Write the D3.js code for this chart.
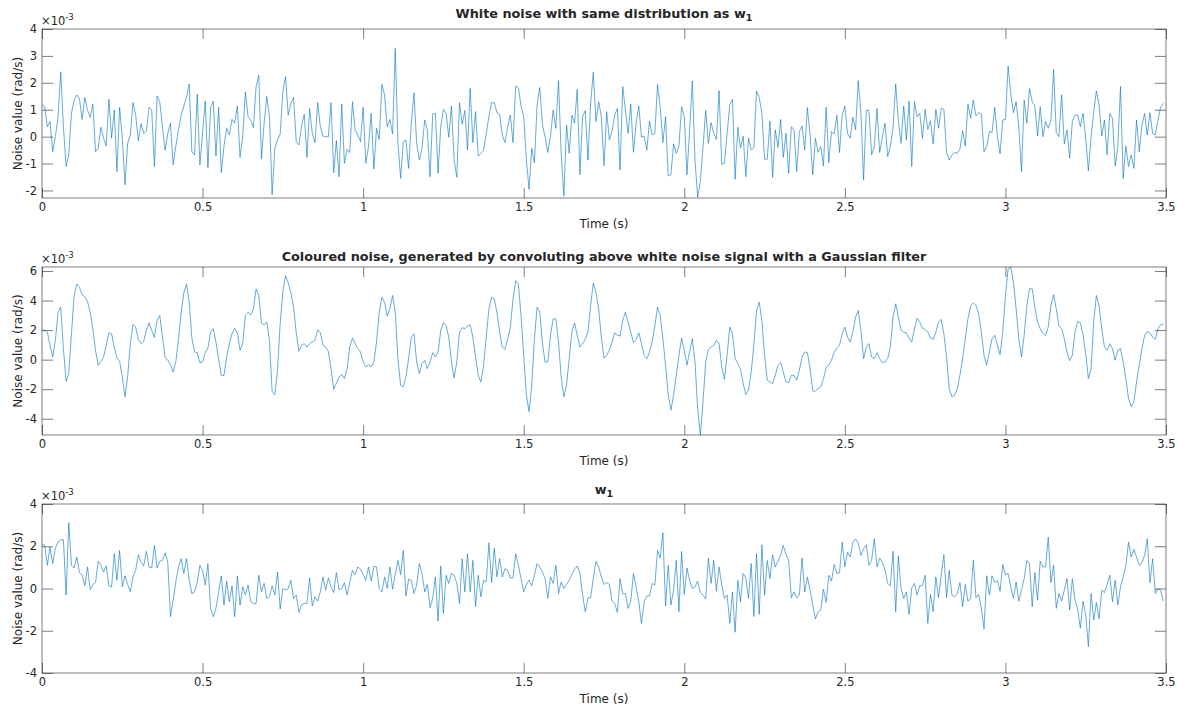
<!DOCTYPE html>
<html>
<head>
<meta charset="utf-8">
<script src="https://cdn.jsdelivr.net/npm/d3@7"></script>
<style>
  body { margin: 0; background: #fff; }
  svg { display: block; }
  text { font-family: "DejaVu Sans", sans-serif; fill: #262626; }
</style>
</head>
<body>
<svg id="fig" width="1182" height="709"></svg>
<script>
// Samples are taken at 120 Hz; values are in units of 1e-3 rad/s.
const sampleRate = 120;
const xTicks = [0, 0.5, 1, 1.5, 2, 2.5, 3, 3.5];

// White noise with the same distribution as w1
const whiteNoise = [
  1.2, 1.1, 0.37, 0.56, -0.56, 0.0, 0.74, 2.41, 0.37, -1.11,
  -0.68, 0.87, 1.36, 1.55, 1.42, 0.64, 1.46, 0.99, 0.72, 1.21,
  -0.56, -0.43, 0.35, -0.06, -0.35, 1.39, -0.06, 0.99, -1.30, 1.09,
  -0.06, -1.79, -0.25, 0.06, 1.27, 0.80, -0.15, 0.48, 0.12, 0.21,
  1.09, 0.99, -1.11, 1.51, 1.29, 0.37, -0.50, 0.12, 0.50, -1.05,
  -0.35, 0.25, 0.80, 1.14, 1.46, 1.96, -0.56, -0.68, 1.58, -1.05,
  0.15, 1.32, -1.15, 1.09, 1.32, -0.72, 1.09, -1.34, -0.35, 0.31,
  0.06, 0.64, 0.50, 1.14, -0.77, 0.0, 1.66, 0.74, 0.62, 0.33,
  1.86, 2.29, -0.83, 0.50, 1.49, 0.74, -2.17, -0.43, -0.12, 0.09,
  1.67, 2.23, 0.80, 1.24, 1.46, -0.19, -0.31, 0.40, 0.83, -0.77,
  1.05, 0.12, -0.22, 1.27, 0.37, 0.02, 0.0, 0.0, 1.26, -1.34,
  -0.15, -1.49, 1.21, -0.99, -0.47, -0.59, 1.30, 0.25, 0.06, -0.19,
  1.09, -0.99, -0.37, 0.87, -1.20, 0.31, -0.10, 1.94, 1.55, 0.37,
  0.64, 0.10, 3.28, -0.22, -1.55, -0.19, -0.12, -1.18, 0.50, 1.63,
  -0.25, -0.87, -0.43, 0.62, 0.25, -1.49, 0.84, 0.87, -1.36, 0.37,
  1.01, 0.87, -0.02, 1.14, -0.87, -1.51, 1.26, 0.46, 0.97, -0.50,
  1.79, -0.22, 0.93, -0.72, -0.62, -0.52, 0.12, 0.74, 1.26, 1.26,
  0.89, 0.83, 0.06, -0.22, 0.37, 0.80, -0.22, 1.88, 1.82, 1.14,
  0.74, -0.87, -1.96, -0.43, -0.97, 1.18, 1.83, 0.43, 0.0, -0.59,
  0.0, 0.99, 0.31, 2.08, -0.62, -2.20, 0.43, -0.62, 0.80, 0.50,
  1.76, -1.42, 0.74, 0.97, -0.87, 1.24, 2.39, 0.56, 1.30, 0.74,
  -1.08, 0.93, -0.12, 0.19, 0.80, 1.05, -1.24, 1.86, 0.99, 0.12,
  1.21, -0.58, 0.50, 1.14, -0.02, 0.02, -0.50, 0.58, 0.06, 0.12,
  1.94, 1.11, -0.22, 0.74, -1.46, -1.42, -0.27, -0.62, -0.35, 1.11,
  0.74, -1.42, 0.25, 2.07, -0.87, -2.25, -1.67, -0.37, 0.97, -0.25,
  0.52, 0.12, -0.10, 1.71, -1.03, -0.99, 0.12, 1.18, 1.39, -1.58,
  0.35, -0.43, 0.02, -1.49, -0.06, -0.50, -0.41, 1.70, 1.45, 0.87,
  -0.84, -0.84, 0.58, -1.51, 0.25, -0.40, 0.64, -0.77, 0.12, -1.36,
  0.37, 0.25, -1.30, 0.19, 0.40, -0.50, 1.08, 0.06, -1.42, -0.06,
  -0.58, -0.37, -1.09, 1.09, -0.97, 0.19, 0.09, 0.80, -0.59, 0.80,
  1.14, 0.12, -0.06, 0.72, 0.25, 2.08, 0.87, -1.61, 0.99, 0.97,
  -0.68, -0.37, 1.05, -0.59, -0.02, 0.50, -0.74, -0.37, 0.31, 1.96,
  0.56, -0.25, 1.14, -0.12, 1.32, -1.11, 1.30, 0.74, 0.87, -0.06,
  1.01, 0.27, 0.59, -0.27, 1.01, 0.31, 1.05, 1.01, -0.59, -0.87,
  -0.68, -0.59, -0.62, -0.47, 0.22, -0.35, 1.21, 0.68, 1.36, 0.77,
  0.89, 0.84, -0.56, -0.37, 0.19, 0.15, 1.09, 0.0, -0.64, 0.62,
  0.64, 2.62, 1.58, 0.89, 1.30, 0.37, -1.30, 1.36, 0.50, 1.79,
  1.30, 1.14, 0.02, 1.11, 0.0, 0.56, 0.31, 0.59, 2.50, 0.15,
  0.0, 1.55, -0.27, 0.25, -0.80, 0.59, 0.80, 0.80, 0.37, 0.87,
  -0.06, -1.27, 0.0, 0.93, 1.70, 1.18, 0.02, 0.62, -0.68, 0.87,
  0.68, -1.09, -0.37, 1.86, -1.55, -0.35, -1.11, -0.68, -1.18, 0.62,
  -0.56, 0.40, 0.87, 0.06, 0.89, 0.12, 0.06, 0.62, 1.09, 1.24
];

// The white noise above after convolution with a Gaussian filter
const colouredNoise = [
  1.98, 2.0, 1.87, 0.97, 0.18, 1.30, 3.21, 3.55, 0.74, -1.46,
  -0.94, 1.75, 4.34, 5.12, 4.90, 4.38, 4.27, 3.93, 3.21, 2.09,
  0.63, -0.38, -0.11, 0.18, 0.97, 1.82, 1.75, 0.85, 0.11, -0.11,
  -1.17, -2.52, -1.17, 1.08, 2.38, 2.20, 1.37, 1.08, 1.24, 1.98,
  2.49, 1.98, 1.51, 2.65, 2.99, 1.53, 0.18, -0.04, -0.34, -0.83,
  -0.16, 1.37, 3.21, 4.52, 5.12, 3.93, 1.46, 0.52, 0.47, -0.20,
  -0.16, 0.47, 0.79, 1.87, 2.09, 1.19, 0.07, -1.10, -1.06, 0.18,
  1.08, 1.75, 2.13, 1.80, 0.63, 1.08, 2.99, 3.21, 3.03, 3.44,
  4.79, 4.34, 2.47, 2.36, 2.54, 1.30, -2.18, -2.36, -0.72, 2.43,
  4.61, 5.69, 5.19, 4.52, 3.55, 1.82, 0.56, 0.97, 1.08, 0.85,
  1.08, 1.19, 1.30, 2.02, 1.82, 0.97, 0.85, 0.56, -0.61, -2.0,
  -1.6, -1.17, -1.0, -1.28, -0.61, 0.85, 1.46, 1.08, 0.74, 0.52,
  -0.16, -0.49, -0.34, -0.49, -0.16, 1.19, 3.21, 4.22, 3.89, 2.94,
  3.44, 4.34, 3.21, 0.07, -1.73, -1.84, -1.17, 0.07, 1.53, 1.75,
  -0.16, -0.94, -0.27, -0.04, -0.61, -0.16, 0.47, 0.18, 0.52, 1.98,
  2.49, 2.31, 1.53, -0.16, -1.24, -0.16, 1.87, 2.16, 2.09, 2.27,
  2.36, 1.53, 0.18, -1.06, -1.51, -0.38, 1.53, 3.44, 4.22, 4.11,
  3.21, 1.87, 0.85, 0.70, 1.37, 2.20, 4.11, 5.35, 5.12, 2.99,
  0.29, -2.40, -3.53, -1.73, 1.42, 3.55, 3.21, 1.08, -0.16, -0.16,
  1.64, 2.76, 2.76, 1.19, -1.17, -2.52, -1.73, 0.07, 1.87, 2.49,
  1.64, 0.85, 1.08, 1.37, 1.87, 3.66, 5.19, 4.56, 3.44, 1.53,
  0.11, 0.29, 0.63, 1.19, 1.82, 1.64, 1.60, 2.65, 3.21, 2.54,
  1.87, 1.15, 1.37, 1.82, 1.08, 0.29, 0.07, 0.52, 1.19, 2.31,
  3.55, 2.99, 1.42, -0.38, -2.40, -3.42, -2.40, -1.06, 0.29, 1.46,
  0.63, -0.38, 0.52, 1.42, -0.16, -3.30, -5.10, -2.85, -0.16, 0.70,
  0.85, 0.97, 1.30, 1.08, -0.49, -1.33, 0.29, 2.20, 1.75, 0.07,
  -0.27, -0.65, -1.62, -2.36, -2.07, -0.83, 0.97, 3.33, 3.89, 2.65,
  0.29, -1.39, -1.51, -1.62, -1.06, -0.38, -0.20, -0.83, -1.51, -1.55,
  -1.06, -1.06, -1.39, -0.72, 0.18, 0.52, 0.47, -0.61, -2.13, -2.13,
  -1.96, -1.84, -1.28, -0.56, -0.38, -0.04, 0.47, 0.79, 0.97, 1.75,
  2.20, 1.53, 1.19, 1.87, 2.88, 3.33, 1.98, 0.07, 0.85, 1.08,
  0.18, 0.07, 0.47, 0.07, -0.20, -0.16, 0.07, 0.85, 2.88, 3.78,
  2.88, 1.98, 1.87, 1.80, 1.46, 1.19, 2.09, 2.81, 2.54, 2.13,
  2.04, 1.87, 1.46, 1.37, 1.87, 2.54, 2.72, 1.75, 0.18, -1.96,
  -2.52, -2.40, -1.96, -1.06, 0.07, 1.42, 2.76, 3.66, 3.84, 3.66,
  3.10, 1.87, 0.29, -0.38, 0.52, 1.42, 1.64, 0.97, 0.34, 1.87,
  4.34, 6.13, 6.25, 5.24, 3.44, 1.42, 0.18, 1.64, 3.66, 4.79,
  4.79, 3.55, 2.54, 2.09, 1.80, 1.64, 2.20, 3.66, 4.40, 3.44,
  2.27, 2.09, 1.42, 0.52, -0.07, 0.29, 1.87, 2.58, 2.49, 1.69,
  0.40, -1.28, -0.61, 2.65, 4.34, 3.66, 2.09, 0.85, 0.63, 1.08,
  0.74, -0.04, 0.63, 0.74, -0.16, -1.28, -2.63, -3.19, -2.85, -1.51,
  -0.38, 0.74, 1.64, 1.91, 1.82, 1.53, 1.37, 2.09, 2.36, 2.40
];

// Measured noise w1
const w1Noise = [
  2.12, 2.04, 1.10, 1.96, 1.18, 1.91, 2.20, 2.31, 2.31, -0.31,
  3.11, 1.10, 0.97, 1.49, 0.75, 0.63, 0.13, 1.02, -0.05, 0.19,
  0.28, 1.29, 1.10, 0.78, 1.07, 0.13, 0.08, 1.65, 0.39, 1.80,
  0.08, 0.60, 0.19, -0.16, 0.55, 0.86, 1.60, 1.25, 1.07, 1.76,
  1.02, 0.97, 2.04, 0.97, 1.29, 1.33, 1.69, 1.25, -1.33, -0.55,
  0.31, 1.02, 1.41, 0.71, 1.41, 0.39, -0.24, -0.16, 0.28, 1.10,
  0.86, 0.16, 1.18, -0.94, -1.33, -0.94, -0.16, 0.60, -0.78, 0.35,
  -0.63, 0.13, -1.33, 0.60, -0.78, 0.08, -0.31, 0.16, -0.63, -0.71,
  -0.71, 0.63, -0.16, 0.24, -0.47, -0.39, 0.13, -0.31, 0.78, -0.97,
  0.0, -0.08, 0.0, 0.39, -0.47, -0.31, -1.13, -0.78, -0.71, -0.71,
  0.50, -0.82, -0.39, -0.60, -0.16, 0.55, -0.08, 0.50, 0.08, -0.19,
  0.75, -0.05, 0.0, 0.28, -0.31, 0.28, 0.86, 0.66, 1.02, 0.91,
  0.66, 0.39, 1.02, 0.35, 1.05, 1.02, 0.0, -0.16, 0.55, 0.0,
  1.02, -0.03, 0.66, 1.33, 0.66, 1.80, -0.35, 0.44, 0.39, -0.24,
  0.16, 1.18, 0.71, -0.16, 0.19, -0.91, -0.47, 0.55, -1.54, 1.07,
  -1.18, 0.63, 0.24, 0.71, 0.63, 0.24, -0.71, 1.41, -0.16, 1.65,
  -0.16, 1.33, -0.86, 0.63, -0.39, 0.39, 0.31, 2.16, 0.28, 1.91,
  0.55, 1.41, 0.55, 0.94, 0.86, 0.50, 0.50, 1.65, 1.10, 0.47,
  -0.16, 0.19, 0.39, 0.13, 0.63, 1.18, 1.02, 0.78, 0.47, -0.47,
  0.55, 0.24, 1.10, -0.24, 0.31, 0.0, 0.19, 0.39, 0.66, 0.91,
  1.07, 0.71, -0.31, -1.10, -0.44, -0.44, 0.47, 1.29, 1.02, 0.55,
  0.19, 0.28, 0.19, -0.60, -0.71, -1.13, 0.47, -0.24, -0.24, -0.94,
  -0.60, 0.71, 0.08, -0.63, -1.65, -0.63, -0.35, -0.35, 0.24, 0.16,
  1.80, 1.44, 2.64, -0.82, 1.10, -0.78, -0.08, 1.33, -1.10, 1.76,
  -0.28, 0.97, 0.39, 0.0, 0.08, 0.35, -0.19, -0.31, -0.50, 1.44,
  0.24, 1.33, -0.13, 1.02, 0.16, -0.47, -0.31, -1.65, -0.16, -2.07,
  0.39, -0.63, 0.71, 0.50, -0.47, 1.18, -1.33, 1.65, -1.22, 2.07,
  -0.31, 1.33, 0.47, 1.60, 1.02, 1.29, 1.57, 2.04, 1.60, 1.33,
  -0.44, -0.16, -0.44, -0.31, 1.44, -0.16, 0.55, -0.08, -0.78, -1.44,
  -1.10, -1.02, -0.03, -0.66, 0.63, 0.35, 1.13, 0.71, 0.75, 2.20,
  1.02, 1.73, 1.49, 2.20, 2.35, 2.16, 1.57, 1.88, 2.07, 1.10,
  1.33, 2.35, 1.02, 1.44, 1.25, 0.86, 0.24, 0.13, 1.76, -1.10,
  1.54, 0.0, -0.47, -0.16, -1.22, 0.03, 0.24, -0.31, 0.13, 0.16,
  0.63, -1.65, -0.28, -1.10, 0.55, -0.44, 0.63, 1.60, -0.44, 0.86,
  -0.31, -0.39, -0.24, 0.28, -0.86, 0.19, -0.60, -0.47, 1.33, -0.44,
  -0.28, -0.94, -1.91, 0.60, -0.31, 0.60, 0.28, 0.39, -0.13, 1.13,
  0.66, 0.71, 0.08, -0.47, 0.31, -0.60, -0.08, 0.47, 1.33, 1.18,
  -0.86, 0.75, -0.55, 1.29, 1.02, 1.02, 2.43, 0.28, 1.10, -0.94,
  -0.24, -0.60, -0.08, 0.47, -1.02, 0.47, -0.55, -0.97, -1.88, -0.60,
  -1.25, -2.75, -0.24, -1.49, -0.66, -1.44, -0.08, -0.19, 0.19, 0.63,
  -0.63, 0.39, -0.78, 0.08, 0.55, 1.07, 2.20, 1.49, 1.85, 1.49,
  1.10, 1.22, 1.57, 2.35, 0.28, 1.41, -0.24, 0.0, -0.08, -0.60
];

const yTicksWhite = [-2, -1, 0, 1, 2, 3, 4];
const yTicksColoured = [-4, -2, 0, 2, 4, 6];
const yTicksW1 = [-4, -2, 0, 2, 4];

const yLimitsWhite = [-2.28, 4];
const yLimitsColoured = [-5.1, 6.27];
const yLimitsW1 = [-4, 4];

const panels = [
  { values: whiteNoise, yLim: yLimitsWhite, yTicks: yTicksWhite,
    title: ["White noise with same distribution as w", "1"], top: 29, bottom: 198, titleGap: 11 },
  { values: colouredNoise, yLim: yLimitsColoured, yTicks: yTicksColoured,
    title: ["Coloured noise, generated by convoluting above white noise signal with a Gaussian filter", ""], top: 267, bottom: 435, titleGap: 6.5 },
  { values: w1Noise, yLim: yLimitsW1, yTicks: yTicksW1,
    title: ["w", "1"], top: 504, bottom: 673, titleGap: 10 }
];

const left = 42, right = 1166;
const axisColor = "#262626";
const lineColor = "#0072BD";
const tickFont = "11.5px", labelFont = "12px", titleFont = "12.8px";
const svg = d3.select("#fig");

const x = d3.scaleLinear().domain([0, 3.5]).range([left, right]);

panels.forEach(p => {
  const y = d3.scaleLinear().domain(p.yLim).range([p.bottom, p.top]);
  const g = svg.append("g");

  // signal trace, clipped to the plot box
  const clipId = "clip" + p.top;
  g.append("clipPath").attr("id", clipId)
    .append("rect").attr("x", left).attr("y", p.top)
    .attr("width", right - left).attr("height", p.bottom - p.top);

  const line = d3.line()
    .x((d, i) => x(i / sampleRate))
    .y(d => y(d));

  g.append("path")
    .datum(p.values)
    .attr("clip-path", `url(#${clipId})`)
    .attr("fill", "none")
    .attr("stroke", lineColor)
    .attr("stroke-width", 0.6)
    .attr("stroke-linejoin", "round")
    .attr("d", line);

  // axes with inward ticks on all four sides
  const styleAxis = sel => {
    sel.select(".domain").remove();
    sel.selectAll(".tick line").attr("stroke", axisColor).attr("stroke-width", 0.6);
    sel.selectAll(".tick text").attr("fill", axisColor)
      .style("font-family", '"DejaVu Sans", sans-serif').style("font-size", tickFont);
  };

  g.append("g").attr("transform", `translate(0,${p.bottom})`)
    .call(d3.axisBottom(x).tickValues(xTicks).tickSizeInner(-10).tickSizeOuter(0)
      .tickPadding(5).tickFormat(d => String(d)))
    .call(styleAxis);
  g.append("g").attr("transform", `translate(0,${p.top})`)
    .call(d3.axisTop(x).tickValues(xTicks).tickSizeInner(-10).tickSizeOuter(0).tickFormat(""))
    .call(styleAxis);
  g.append("g").attr("transform", `translate(${left},0)`)
    .call(d3.axisLeft(y).tickValues(p.yTicks).tickSizeInner(-11).tickSizeOuter(0)
      .tickPadding(5).tickFormat(d => String(d)))
    .call(styleAxis);
  g.append("g").attr("transform", `translate(${right},0)`)
    .call(d3.axisRight(y).tickValues(p.yTicks).tickSizeInner(-11).tickSizeOuter(0).tickFormat(""))
    .call(styleAxis);

  // box
  g.append("rect")
    .attr("x", left).attr("y", p.top)
    .attr("width", right - left).attr("height", p.bottom - p.top)
    .attr("fill", "none").attr("stroke", axisColor).attr("stroke-width", 0.6);

  // exponent marker
  const ex = g.append("text").attr("x", left - 1).attr("y", p.top - 4)
    .style("font-size", tickFont);
  ex.append("tspan").text("\u00d710");
  ex.append("tspan").attr("dy", -5).style("font-size", "8.5px").text("-3");

  // title
  const t = g.append("text")
    .attr("x", (left + right) / 2).attr("y", p.top - p.titleGap)
    .attr("text-anchor", "middle")
    .style("font-size", titleFont).style("font-weight", "bold");
  t.append("tspan").text(p.title[0]);
  if (p.title[1]) t.append("tspan").attr("dy", 3).style("font-size", "9.5px").text(p.title[1]);

  // x label
  g.append("text")
    .attr("x", (left + right) / 2).attr("y", p.bottom + 30)
    .attr("text-anchor", "middle").style("font-size", labelFont)
    .text("Time (s)");

  // y label
  g.append("text")
    .attr("transform", `translate(22,${(p.top + p.bottom) / 2}) rotate(-90)`)
    .attr("text-anchor", "middle").style("font-size", labelFont)
    .text("Noise value (rad/s)");
});
</script>
</body>
</html>
